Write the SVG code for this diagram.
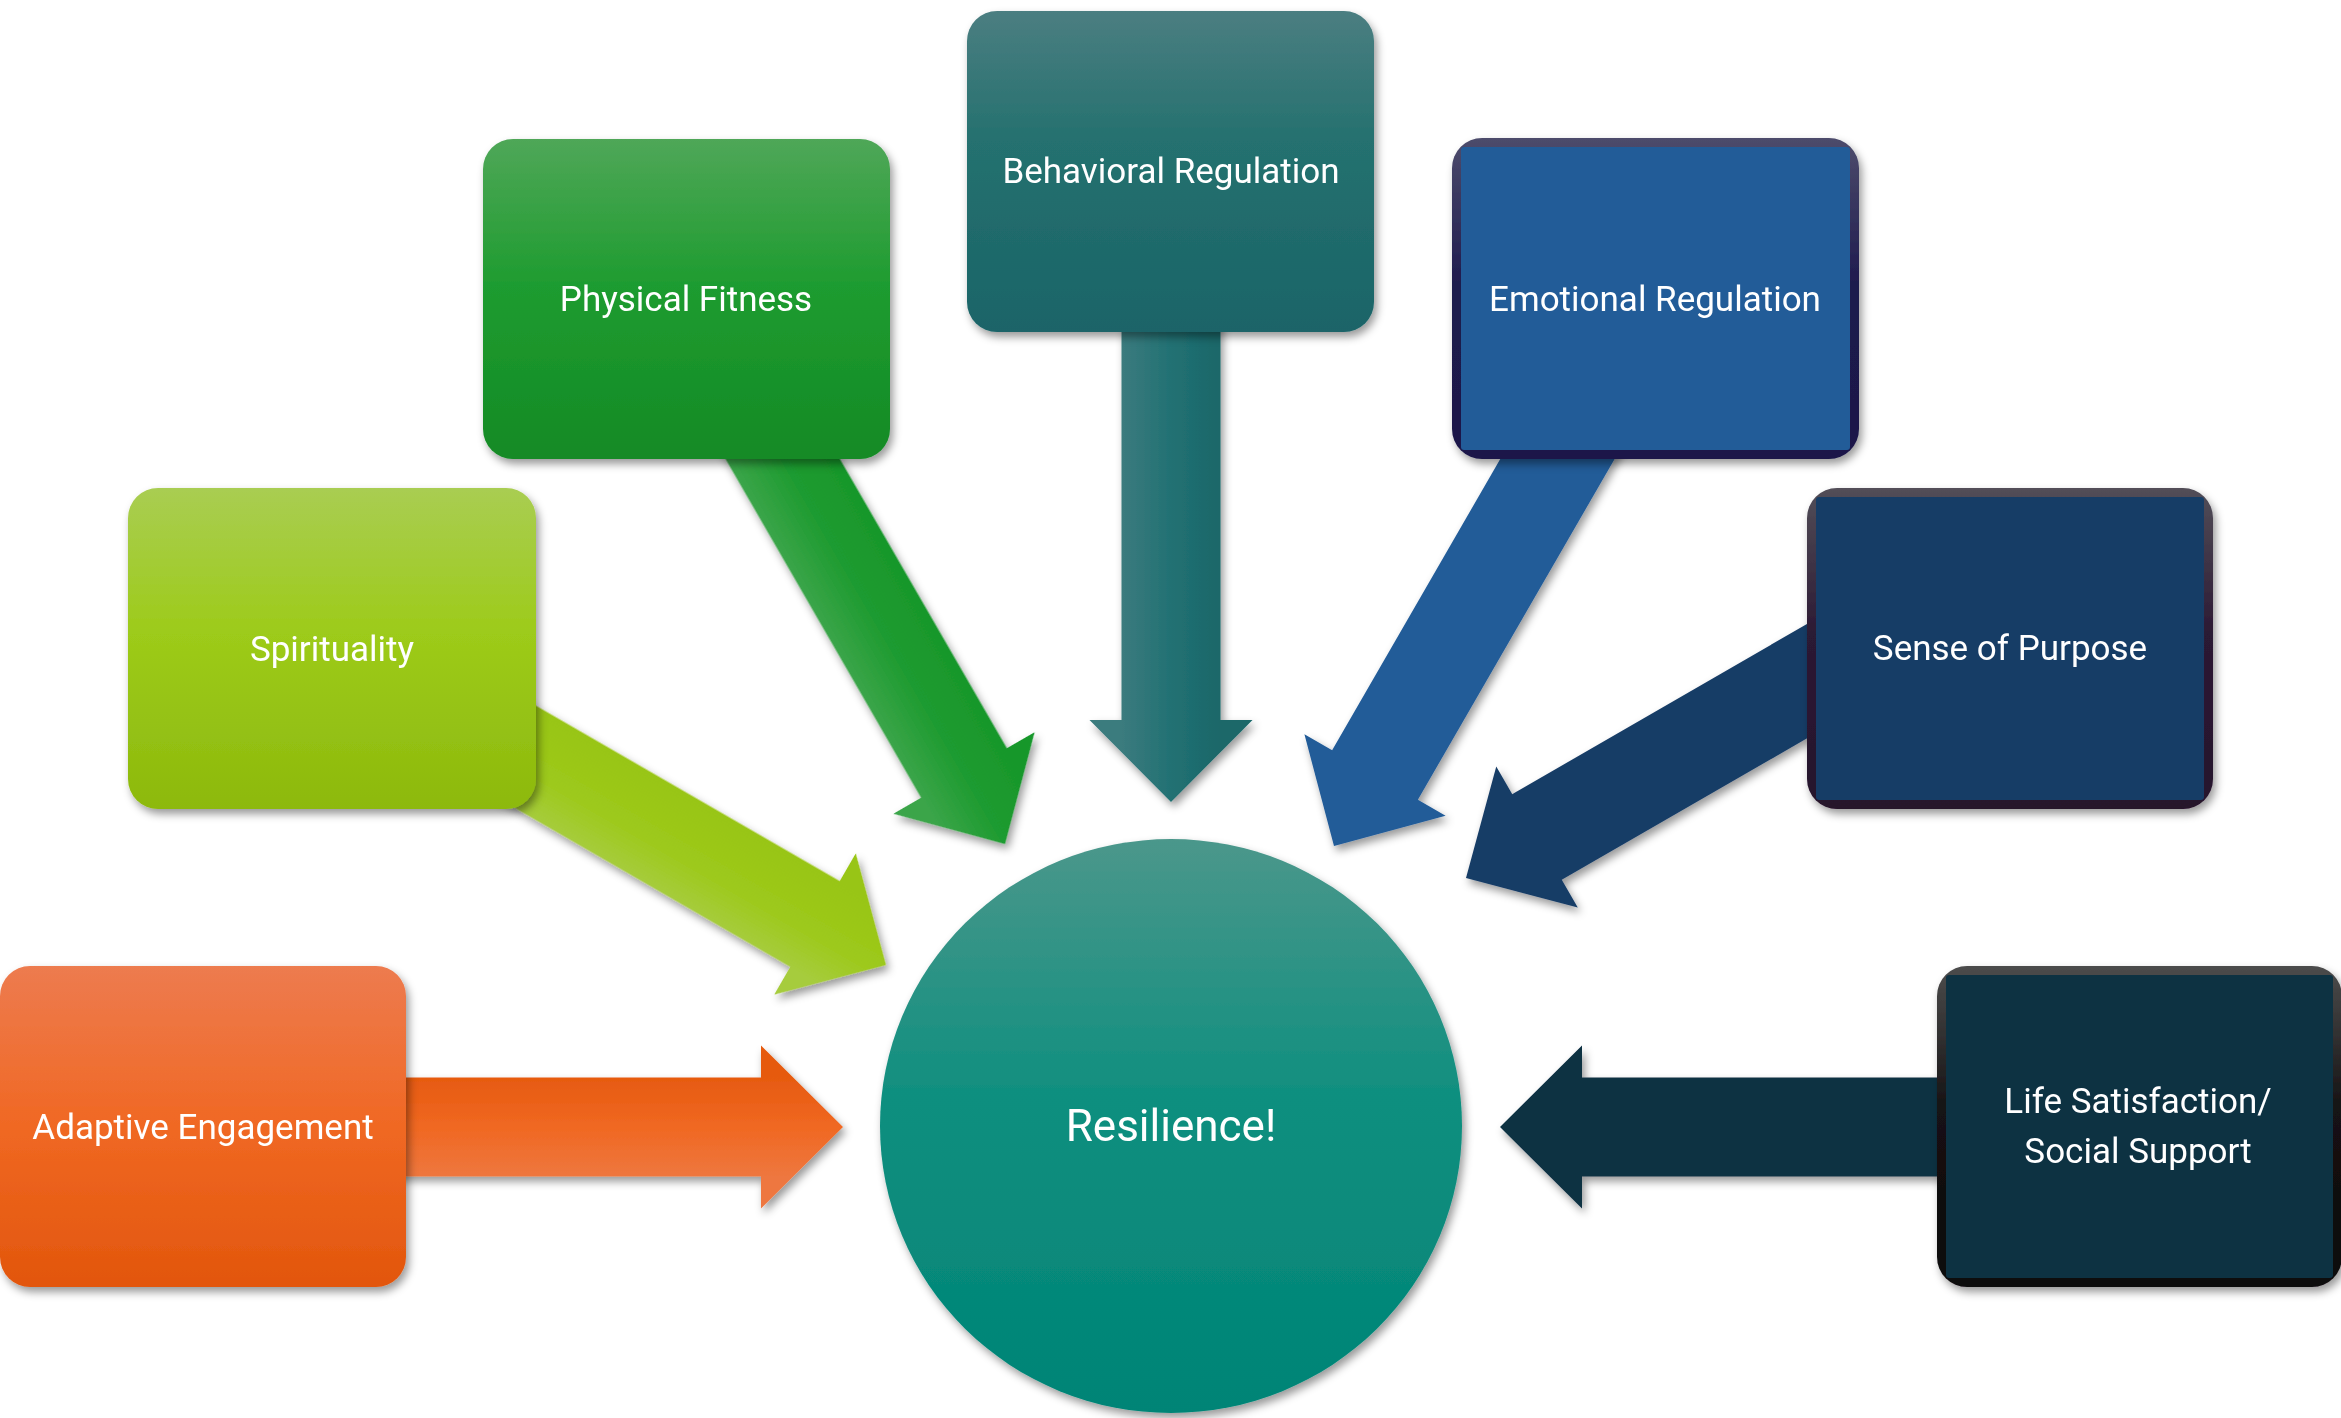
<svg xmlns="http://www.w3.org/2000/svg" width="2341" height="1418" viewBox="0 0 2341 1418">
  <defs>
    <style>
      .lbl { font-family: Roboto, "Liberation Sans", sans-serif; font-size: 35px; fill: #ffffff; text-anchor: middle; }
      .big { font-size: 44px; }
      .shadowed { filter: url(#shadow); }
    </style>
    <filter id="shadow" x="-20%" y="-20%" width="140%" height="140%">
      <feDropShadow dx="3" dy="5" stdDeviation="4" flood-color="#000" flood-opacity="0.4"/>
    </filter>

    <!-- box fills -->
    <linearGradient id="gOrange" x1="0" y1="0" x2="0" y2="1">
      <stop offset="0" stop-color="#ed7b4f"/>
      <stop offset="0.5" stop-color="#f06823"/>
      <stop offset="1" stop-color="#e2560c"/>
    </linearGradient>
    <linearGradient id="gLime" x1="0" y1="0" x2="0" y2="1">
      <stop offset="0" stop-color="#a9cd52"/>
      <stop offset="0.45" stop-color="#9dcb1a"/>
      <stop offset="1" stop-color="#8db90d"/>
    </linearGradient>
    <linearGradient id="gGreen" x1="0" y1="0" x2="0" y2="1">
      <stop offset="0" stop-color="#4fa758"/>
      <stop offset="0.45" stop-color="#1f9c30"/>
      <stop offset="1" stop-color="#138a25"/>
    </linearGradient>
    <linearGradient id="gTeal" x1="0" y1="0" x2="0" y2="1">
      <stop offset="0" stop-color="#4b7e81"/>
      <stop offset="0.4" stop-color="#25716f"/>
      <stop offset="1" stop-color="#1a6468"/>
    </linearGradient>
    <linearGradient id="gCircle" x1="0" y1="0" x2="0" y2="1">
      <stop offset="0" stop-color="#4b978b"/>
      <stop offset="0.45" stop-color="#0f8f7f"/>
      <stop offset="1" stop-color="#008476"/>
    </linearGradient>

    <!-- dark frames of the blue boxes -->
    <linearGradient id="fEmotion" x1="0" y1="0" x2="0" y2="1">
      <stop offset="0" stop-color="#4d4c6c"/>
      <stop offset="0.45" stop-color="#1f1b4e"/>
      <stop offset="1" stop-color="#1b1848"/>
    </linearGradient>
    <linearGradient id="fPurpose" x1="0" y1="0" x2="0" y2="1">
      <stop offset="0" stop-color="#524e58"/>
      <stop offset="0.45" stop-color="#2c1a34"/>
      <stop offset="1" stop-color="#26122c"/>
    </linearGradient>
    <linearGradient id="fLife" x1="0" y1="0" x2="0" y2="1">
      <stop offset="0" stop-color="#4c4c4c"/>
      <stop offset="0.45" stop-color="#151213"/>
      <stop offset="1" stop-color="#0c090b"/>
    </linearGradient>

    <!-- arrow fills, across the shaft (local y) -->
    <linearGradient id="aOrange" gradientUnits="userSpaceOnUse" x1="0" y1="-50" x2="0" y2="50">
      <stop offset="0" stop-color="#e65a10"/>
      <stop offset="0.5" stop-color="#f06822"/>
      <stop offset="1" stop-color="#ee773f"/>
    </linearGradient>
    <linearGradient id="aLime" gradientUnits="userSpaceOnUse" x1="0" y1="-50" x2="0" y2="50">
      <stop offset="0" stop-color="#98c512"/>
      <stop offset="0.6" stop-color="#9dc91c"/>
      <stop offset="1" stop-color="#a6cc3c"/>
    </linearGradient>
    <linearGradient id="aGreen" gradientUnits="userSpaceOnUse" x1="0" y1="-50" x2="0" y2="50">
      <stop offset="0" stop-color="#18972b"/>
      <stop offset="0.5" stop-color="#1e9b30"/>
      <stop offset="1" stop-color="#3ba549"/>
    </linearGradient>
    <linearGradient id="aTeal" gradientUnits="userSpaceOnUse" x1="0" y1="-50" x2="0" y2="50">
      <stop offset="0" stop-color="#1a6769"/>
      <stop offset="0.5" stop-color="#227173"/>
      <stop offset="1" stop-color="#3b7b7e"/>
    </linearGradient>
  </defs>

  <rect width="2341" height="1418" fill="#ffffff"/>

  <!-- block arrows: drawn with the tip at the local origin, pointing along +x -->
  <g id="connectors" class="shadowed">
    <path id="arrow-adaptive" fill="url(#aOrange)" transform="translate(843,1127)"
          d="M0,0 L-82,-81.5 L-82,-49.5 L-453,-49.5 L-453,49.5 L-82,49.5 L-82,81.5 Z"/>
    <path id="arrow-spirituality" fill="url(#aLime)" transform="translate(886,965) rotate(30)"
          d="M0,0 L-82,-81.5 L-82,-49.5 L-450,-49.5 L-450,49.5 L-82,49.5 L-82,81.5 Z"/>
    <path id="arrow-physical" fill="url(#aGreen)" transform="translate(1005,844) rotate(60)"
          d="M0,0 L-82,-81.5 L-82,-49.5 L-500,-49.5 L-500,49.5 L-82,49.5 L-82,81.5 Z"/>
    <path id="arrow-behavioral" fill="url(#aTeal)" transform="translate(1171,802) rotate(90)"
          d="M0,0 L-82,-81.5 L-82,-49.5 L-500,-49.5 L-500,49.5 L-82,49.5 L-82,81.5 Z"/>
    <path id="arrow-emotional" fill="#215b98" transform="translate(1334,846) rotate(120)"
          d="M0,0 L-82,-81.5 L-82,-49.5 L-500,-49.5 L-500,49.5 L-82,49.5 L-82,81.5 Z"/>
    <path id="arrow-purpose" fill="#173c66" transform="translate(1466,878) rotate(150)"
          d="M0,0 L-82,-81.5 L-82,-49.5 L-450,-49.5 L-450,49.5 L-82,49.5 L-82,81.5 Z"/>
    <path id="arrow-life" fill="#0e3043" transform="translate(1500,1127) rotate(180)"
          d="M0,0 L-82,-81.5 L-82,-49.5 L-460,-49.5 L-460,49.5 L-82,49.5 L-82,81.5 Z"/>
  </g>

  <g id="resilience" class="shadowed">
    <ellipse cx="1171" cy="1126" rx="291" ry="287" fill="url(#gCircle)"/>
    <text class="lbl big" x="1171" y="1141">Resilience!</text>
  </g>

  <g id="adaptive-engagement" class="shadowed">
    <rect x="0" y="966" width="406" height="321" rx="30" fill="url(#gOrange)"/>
    <text class="lbl" x="203" y="1139">Adaptive Engagement</text>
  </g>

  <g id="spirituality" class="shadowed">
    <rect x="128" y="488" width="408" height="321" rx="30" fill="url(#gLime)"/>
    <text class="lbl" x="332" y="661">Spirituality</text>
  </g>

  <g id="physical-fitness" class="shadowed">
    <rect x="483" y="139" width="407" height="320" rx="30" fill="url(#gGreen)"/>
    <text class="lbl" x="686" y="311">Physical Fitness</text>
  </g>

  <g id="behavioral-regulation" class="shadowed">
    <rect x="967" y="11" width="407" height="321" rx="30" fill="url(#gTeal)"/>
    <text class="lbl" x="1171" y="183">Behavioral Regulation</text>
  </g>

  <g id="emotional-regulation" class="shadowed">
    <rect x="1452" y="138" width="407" height="321" rx="30" fill="url(#fEmotion)"/>
    <rect x="1461" y="147" width="389" height="303" rx="3" fill="#215b98"/>
    <text class="lbl" x="1655" y="311">Emotional Regulation</text>
  </g>

  <g id="sense-of-purpose" class="shadowed">
    <rect x="1807" y="488" width="406" height="321" rx="30" fill="url(#fPurpose)"/>
    <rect x="1816" y="497" width="388" height="303" rx="3" fill="#173c66"/>
    <text class="lbl" x="2010" y="660">Sense of Purpose</text>
  </g>

  <g id="life-satisfaction" class="shadowed">
    <rect x="1937" y="966" width="405" height="321" rx="30" fill="url(#fLife)"/>
    <rect x="1946" y="975" width="387" height="303" rx="3" fill="#0e3043"/>
    <text class="lbl" x="2138" y="1113">Life Satisfaction/</text>
    <text class="lbl" x="2138" y="1163">Social Support</text>
  </g>
</svg>
